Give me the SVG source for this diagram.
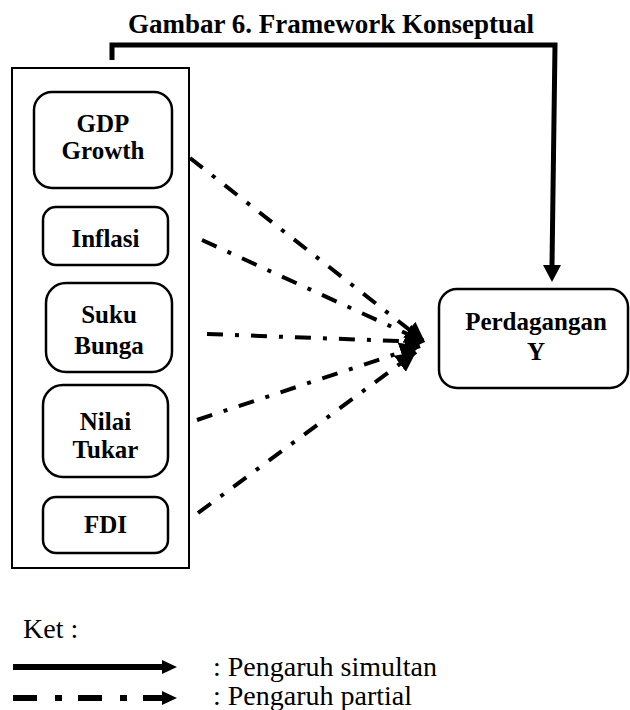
<svg xmlns="http://www.w3.org/2000/svg" width="630" height="710" viewBox="0 0 630 710">
<style>
text{font-family:"Liberation Serif","Times New Roman",serif;fill:#000}
.t{font-weight:bold;font-size:25px;text-anchor:middle}
.box{fill:#fff;stroke:#000;stroke-width:2.5}
.dd{stroke:#000;stroke-width:4;fill:none;stroke-dasharray:16 12 4 12}
.leg{font-size:28px}
</style>
<defs>
<marker id="ah" markerUnits="userSpaceOnUse" markerWidth="20" markerHeight="20" viewBox="0 0 16 16" refX="16" refY="8" orient="auto">
<path d="M0,0 L16,8 L0,16 z" fill="#000"/>
</marker>
</defs>
<rect width="630" height="710" fill="#fff"/>
<text x="331" y="33" font-size="27" font-weight="bold" text-anchor="middle">Gambar 6. Framework Konseptual</text>
<rect x="12" y="68" width="177" height="500" fill="none" stroke="#000" stroke-width="2"/>
<g id="gdp"><rect class="box" x="34" y="92" width="138" height="96" rx="18"/><text class="t" x="103" y="132">GDP</text><text class="t" x="103" y="159">Growth</text></g>
<g id="inflasi"><rect class="box" x="43" y="207" width="125" height="58" rx="13"/><text class="t" x="105.5" y="247">Inflasi</text></g>
<g id="suku"><rect class="box" x="46" y="283" width="126" height="89" rx="20"/><text class="t" x="109" y="323">Suku</text><text class="t" x="109" y="354">Bunga</text></g>
<g id="nilai"><rect class="box" x="43" y="385" width="125" height="92" rx="20"/><text class="t" x="105.5" y="430">Nilai</text><text class="t" x="105.5" y="458">Tukar</text></g>
<g id="fdi"><rect class="box" x="43" y="497" width="125" height="56" rx="13"/><text class="t" x="105.5" y="533">FDI</text></g>
<g id="perdagangan"><rect class="box" x="439" y="289" width="189" height="99" rx="18"/><text class="t" x="536" y="330" font-size="26">Perdagangan</text><text class="t" x="536" y="360" font-size="26">Y</text></g>
<g id="connectors">
<polyline points="112,60 112,45 555,45 552,266" fill="none" stroke="#000" stroke-width="5"/>
<path d="M543,265 L561,265 L552,282 z" fill="#000"/>
<line class="dd" x1="190" y1="158" x2="425" y2="342" marker-end="url(#ah)"/>
<line class="dd" x1="202" y1="240" x2="425" y2="342" marker-end="url(#ah)"/>
<line class="dd" x1="207" y1="334" x2="425" y2="342" marker-end="url(#ah)"/>
<line class="dd" x1="197" y1="420" x2="420" y2="346" marker-end="url(#ah)"/>
<line class="dd" x1="198" y1="513" x2="416" y2="352" marker-end="url(#ah)"/>
</g>
<g id="legend">
<text class="leg" x="23" y="638">Ket :</text>
<line x1="13" y1="667" x2="163" y2="667" stroke="#000" stroke-width="6"/>
<path d="M162,660 L177,667 L162,674 z" fill="#000"/>
<line x1="13" y1="698" x2="163" y2="698" stroke="#000" stroke-width="6" stroke-dasharray="24 18 7 16"/>
<path d="M162,691 L177,698 L162,705 z" fill="#000"/>
<text class="leg" x="213" y="676">: Pengaruh simultan</text>
<text class="leg" x="213" y="705">: Pengaruh partial</text>
</g>
</svg>
